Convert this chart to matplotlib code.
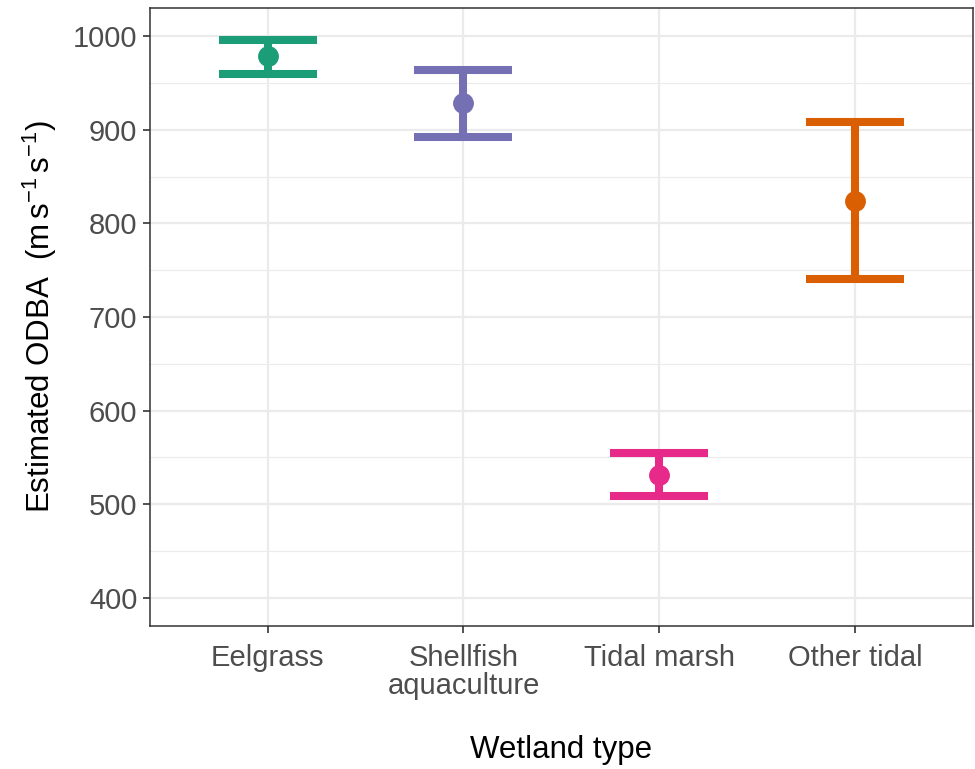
import matplotlib
matplotlib.use("Agg")
import matplotlib.pyplot as plt
from matplotlib.ticker import MultipleLocator

# Estimated ODBA per wetland type (mean and interval bounds)
wetland_types = ["Eelgrass", "Shellfish\naquaculture", "Tidal marsh", "Other tidal"]
odba_mean = [979, 929, 531, 824]
odba_lower = [960, 892, 509, 741]
odba_upper = [996, 964, 555, 908]
farver = ["#1B9E77", "#7570B3", "#E7298A", "#D95F02"]

plt.rcParams["font.family"] = ["Liberation Sans", "DejaVu Sans"]
plt.rcParams["mathtext.fontset"] = "custom"
plt.rcParams["mathtext.rm"] = "Liberation Sans"
plt.rcParams["mathtext.it"] = "Liberation Sans:italic"

fig = plt.figure(figsize=(9.75, 7.69), dpi=100)
ax = fig.add_axes([0.1538, 0.186, 0.844, 0.8036])

positions = list(range(1, len(wetland_types) + 1))
for x, m, lo, hi, c in zip(positions, odba_mean, odba_lower, odba_upper, farver):
    ax.errorbar(x, m, yerr=[[m - lo], [hi - m]], fmt="none", ecolor=c,
                elinewidth=5.8, capsize=35, capthick=5.8, zorder=3)
    ax.plot(x, m, "o", color=c, markersize=14, zorder=4)

ax.set_xlim(0.4, 4.6)
ax.set_ylim(370, 1030)
ax.set_xticks(positions)
ax.set_xticklabels(wetland_types, linespacing=1.0)
ax.yaxis.set_major_locator(MultipleLocator(100))
ax.yaxis.set_minor_locator(MultipleLocator(50))

ax.grid(True, which="major", color="#EBEBEB", linewidth=1.6, zorder=0)
ax.grid(True, which="minor", axis="y", color="#EBEBEB", linewidth=0.8, zorder=0)
ax.set_axisbelow(True)
ax.tick_params(axis="both", which="major", labelsize=21, labelcolor="#4D4D4D",
               color="#333333", length=5, width=1.2)
ax.tick_params(axis="x", which="major", pad=8)
ax.tick_params(axis="y", which="major", pad=4)
ax.tick_params(axis="y", which="minor", length=0)
for spine in ax.spines.values():
    spine.set_color("#333333")
    spine.set_linewidth(1.1)

ax.set_xlabel("Wetland type", fontsize=22.5, labelpad=25)
ax.set_ylabel(r"Estimated ODBA  $(\mathrm{m\,s^{-1}\,s^{-1}})$", fontsize=22.5, labelpad=10)

fig.savefig("out.png", dpi=100)
